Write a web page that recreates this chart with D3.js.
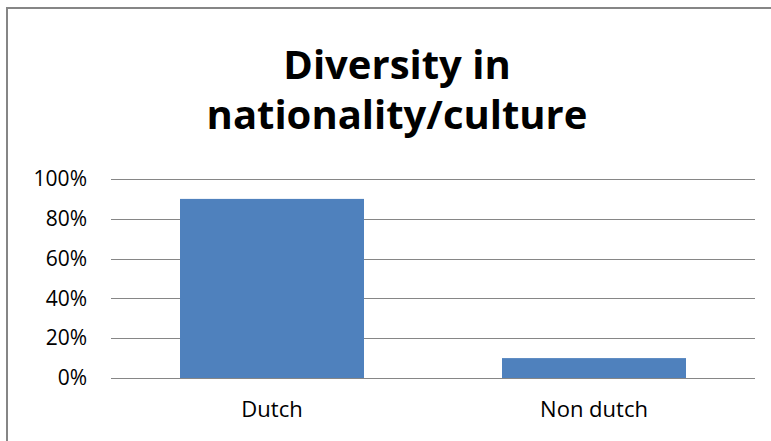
<!DOCTYPE html>
<html>
<head>
<meta charset="utf-8">
<script src="https://cdn.jsdelivr.net/npm/d3@7"></script>
<style>
  body { margin: 0; background: #fff; }
  svg { display: block; }
</style>
</head>
<body>
<div id="chart"></div>
<script>
// data
const categories = ['Dutch', 'Non dutch'];
const values = [0.90, 0.10];
const yTicks = [0, 0.2, 0.4, 0.6, 0.8, 1.0];
const titleLines = ['Diversity in', 'nationality/culture'];

const width = 771;
const height = 441;
const margin = { top: 179, right: 16, bottom: 63, left: 111 };

const svg = d3.select('#chart').append('svg')
  .attr('width', width)
  .attr('height', height);

// chart frame
svg.append('rect')
  .attr('x', 7)
  .attr('y', 8)
  .attr('width', 800)
  .attr('height', 500)
  .attr('fill', '#fff')
  .attr('stroke', '#868686')
  .attr('stroke-width', 2);

const x = d3.scaleBand()
  .domain(categories)
  .range([margin.left, width - margin.right])
  .paddingInner(0.4286)
  .paddingOuter(0.2143);

const y = d3.scaleLinear()
  .domain([0, 1])
  .range([height - margin.bottom, margin.top]);

// grid lines
svg.append('g')
  .selectAll('line')
  .data(yTicks)
  .join('line')
  .attr('x1', margin.left)
  .attr('x2', width - margin.right)
  .attr('y1', (d) => Math.round(y(d)) + 0.5)
  .attr('y2', (d) => Math.round(y(d)) + 0.5)
  .attr('stroke', '#868686')
  .attr('stroke-width', 1);

// y axis labels
const yAxis = d3.axisLeft(y)
  .tickValues(yTicks)
  .tickFormat(d3.format('.0%'))
  .tickSize(0)
  .tickPadding(24);

svg.append('g')
  .attr('transform', `translate(${margin.left},0)`)
  .call(yAxis)
  .call((g) => g.select('.domain').remove())
  .call((g) => g.selectAll('text')
    .attr('fill', '#000')
    .style('font-family', "'Open Sans', sans-serif")
    .style('font-size', '21px'));

// bars
svg.append('g')
  .selectAll('rect')
  .data(values)
  .join('rect')
  .attr('x', (d, i) => x(categories[i]))
  .attr('y', (d) => y(d))
  .attr('width', x.bandwidth())
  .attr('height', (d) => y(0) - y(d))
  .attr('fill', '#4F81BD');

// x axis labels
const xAxis = d3.axisBottom(x).tickSize(0).tickPadding(23);
svg.append('g')
  .attr('transform', `translate(0,${height - margin.bottom})`)
  .call(xAxis)
  .call((g) => g.select('.domain').remove())
  .call((g) => g.selectAll('text')
    .attr('fill', '#000')
    .style('font-family', "'Open Sans', sans-serif")
    .style('font-size', '22px'));

// title
svg.append('g')
  .selectAll('text')
  .data(titleLines)
  .join('text')
  .attr('x', 397)
  .attr('y', (d, i) => 79 + i * 50)
  .attr('text-anchor', 'middle')
  .style('font-family', "'Open Sans', sans-serif")
  .style('font-weight', 'bold')
  .style('font-size', '40px')
  .attr('fill', '#000')
  .text((d) => d);
</script>
</body>
</html>
